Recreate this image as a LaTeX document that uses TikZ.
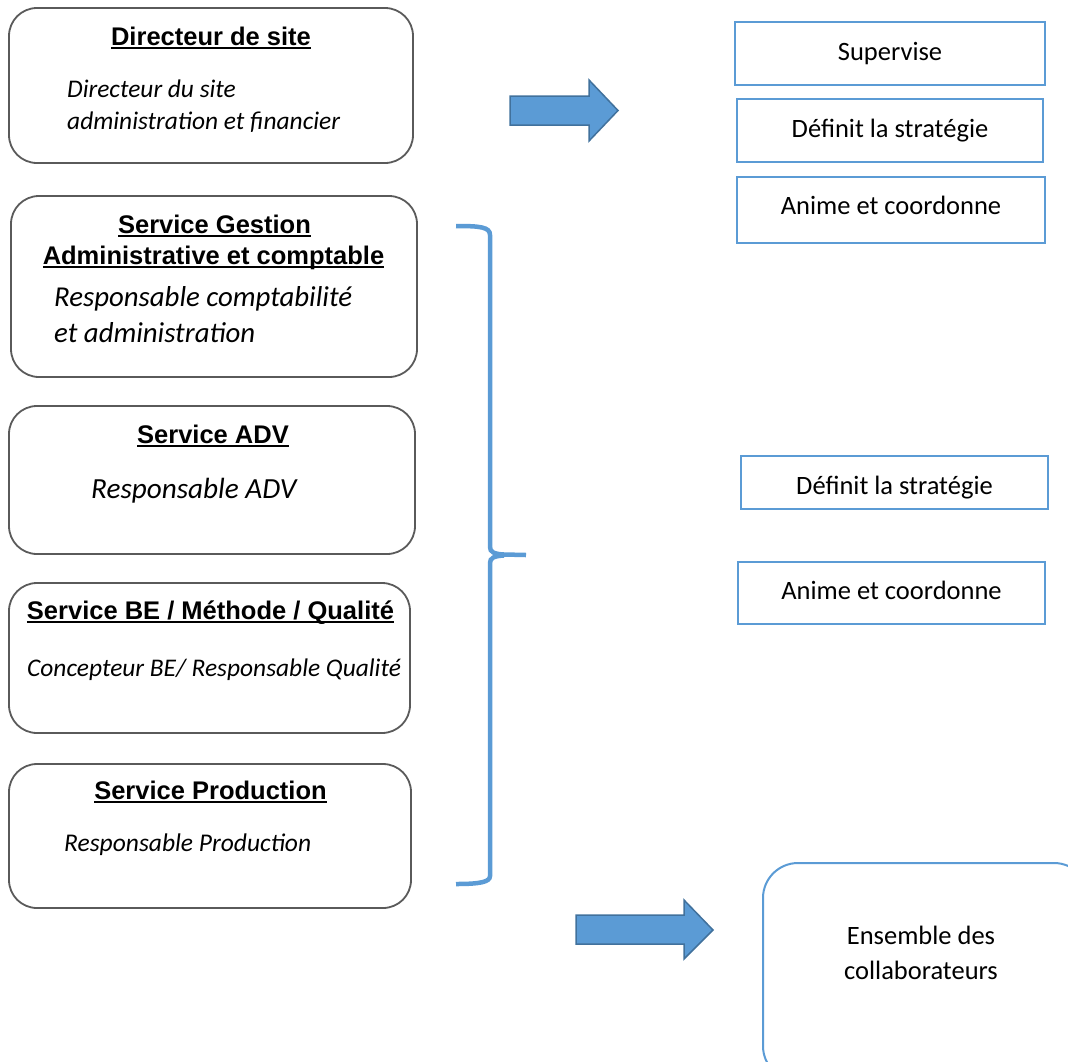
\documentclass[tikz,border=0pt]{standalone}
\usepackage{fontspec}
\setmainfont{Carlito}
\newfontfamily\arialfont{Liberation Sans}
\definecolor{blu}{HTML}{5B9BD5}
\definecolor{blueedge}{HTML}{41719C}
\definecolor{boxgray}{HTML}{5A5A5A}
\newsavebox\ttlbox
\newcommand\ttl[1]{\sbox\ttlbox{#1}\rlap{\rule[-3.8pt]{\wd\ttlbox}{1.8pt}}\usebox\ttlbox}
\tikzset{
  orgbox/.style={draw=boxgray, line width=1.8pt, rounded corners=28pt, inner sep=0pt},
  titletext/.style={font=\arialfont\bfseries\fontsize{25.5}{30}\selectfont, anchor=base, inner sep=0pt},
  roletext/.style={font=\itshape\fontsize{#1}{32}\selectfont, anchor=base west, inner sep=0pt},
  actbox/.style={draw=blu, line width=2pt, font=\fontsize{26.5}{32}\selectfont, inner sep=0pt},
  acttext/.style={font=\fontsize{26.5}{32}\selectfont, anchor=base, inner sep=0pt},
  bigarrow/.style={fill=blu, draw=blueedge, line width=1.5pt, line join=miter},
  bracket/.style={draw=blu, line width=4.5pt}
}
\begin{document}
\begin{tikzpicture}[x=1pt,y=-1pt]
\path[use as bounding box] (0,0) rectangle (1068,1061);
\clip (0,0) rectangle (1068,1061);
% left boxes
\node[orgbox, minimum width=404pt, minimum height=155pt] (dir) at (211,85.5) {};
\node[titletext] (dirT) at (211,45) {\ttl{Directeur de site}};
\node[roletext=25.4] (dirR1) at (67,97) {Directeur du site};
\node[roletext=25.4] (dirR2) at (67,129) {administration et financier};

\node[orgbox, minimum width=406pt, minimum height=181pt] (gest) at (214,286.5) {};
\node[titletext] (gestT1) at (214.5,233) {\ttl{Service Gestion}};
\node[titletext] (gestT2) at (213.5,264) {\ttl{Administrative et comptable}};
\node[roletext=28.8] (gestR1) at (54,306) {Responsable comptabilité};
\node[roletext=28.8] (gestR2) at (54,342) {et administration};

\node[orgbox, minimum width=406pt, minimum height=148pt] (adv) at (212,480) {};
\node[titletext] (advT) at (213,443) {\ttl{Service ADV}};
\node[roletext=29.2] (advR) at (91,498) {Responsable ADV};

\node[orgbox, minimum width=401pt, minimum height=150pt] (be) at (209.5,658) {};
\node[titletext] (beT) at (210.5,619) {\ttl{Service BE / Méthode / Qualité}};
\node[roletext=25.4] (beR) at (27,676) {Concepteur BE/ Responsable Qualité};

\node[orgbox, minimum width=402pt, minimum height=144pt] (prod) at (210,836) {};
\node[titletext] (prodT) at (210.5,799) {\ttl{Service Production}};
\node[roletext=25.5] (prodR) at (64,851) {Responsable Production};

% right boxes
\node[actbox, minimum width=310pt, minimum height=63pt] (sup) at (890,53.5) {};
\node[acttext] (supT) at (890,60) {Supervise};
\node[actbox, minimum width=306pt, minimum height=63pt] (strat1) at (890,130.5) {};
\node[acttext] (strat1T) at (890,137) {Définit la stratégie};
\node[actbox, minimum width=308pt, minimum height=66pt] (anim1) at (891,210) {};
\node[acttext] (anim1T) at (891,214) {Anime et coordonne};
\node[actbox, minimum width=307pt, minimum height=53pt] (strat2) at (894.5,482.5) {};
\node[acttext] (strat2T) at (894.5,494) {Définit la stratégie};
\node[actbox, minimum width=307pt, minimum height=62pt] (anim2) at (891.5,593) {};
\node[acttext] (anim2T) at (891.5,599) {Anime et coordonne};

\node[draw=blu, line width=2pt, rounded corners=35pt, minimum width=326pt, minimum height=218pt, inner sep=0pt] (ens) at (926,972) {};
\node[font=\fontsize{26.5}{35}\selectfont, align=center, inner sep=0pt] (ensT) at (921,953) {Ensemble des\\collaborateurs};

% block arrows
\draw[bigarrow] (510,96) -- (589,96) -- (589,80) -- (618,110.5) -- (589,141) -- (589,125) -- (510,125) -- cycle;
\draw[bigarrow] (576,915) -- (684,915) -- (684,900) -- (713,930) -- (684,959) -- (684,944) -- (576,944) -- cycle;

% bracket
\draw[bracket] (456,226) .. controls (480,226) and (490,227) .. (490,235) -- (490,547)
  .. controls (490,552) and (494,554) .. (504,554.5) -- (526,555);
\draw[bracket] (504,555.5) .. controls (494,556) and (490,558) .. (490,563) -- (490,876)
  .. controls (490,882) and (480,884) .. (456,884);
\end{tikzpicture}
\end{document}
